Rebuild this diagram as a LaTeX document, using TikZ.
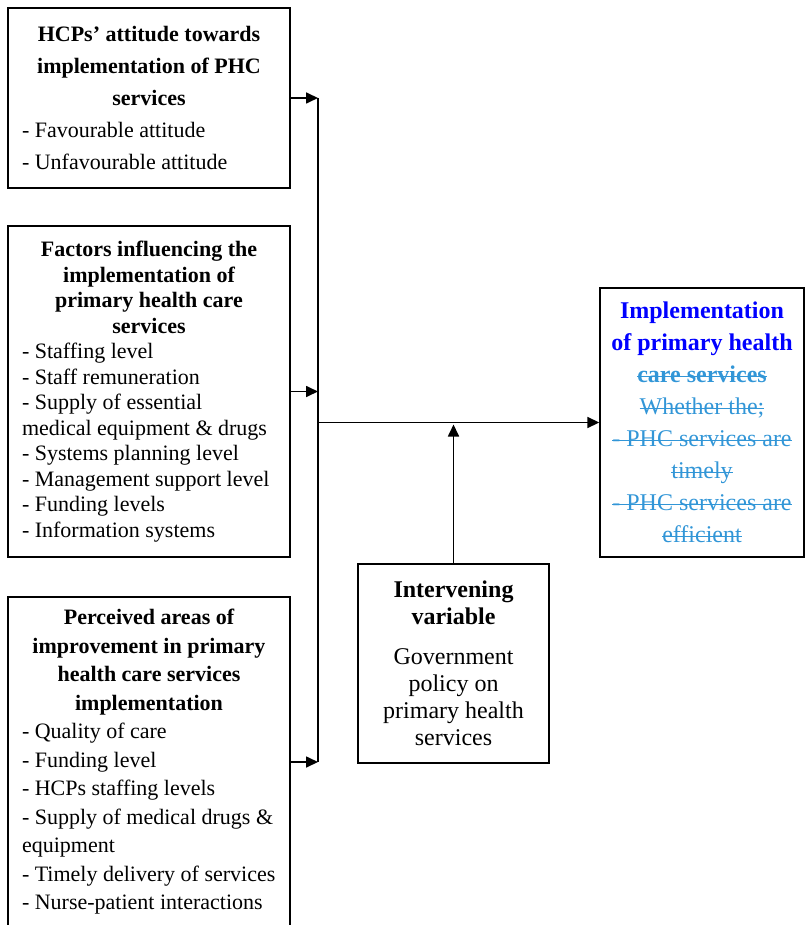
\documentclass[tikz,border=0pt]{standalone}
\usepackage{fontspec}
\setmainfont{Liberation Serif}
\usetikzlibrary{shapes,arrows.meta}
\definecolor{implblue}{RGB}{0,0,255}
\definecolor{strikeblue}{RGB}{50,150,215}
\newcommand{\strk}[1]{\leavevmode\setbox0\hbox{#1}\rlap{\rule[0.5ex]{\wd0}{1.6pt}}\box0}

\begin{document}
\begin{tikzpicture}[x=1pt,y=-1pt,
    every node/.style={draw,line width=1.4pt,inner ysep=4pt},
    leftbox/.style={text width=254pt,inner xsep=14pt,align=flush left},
    midbox/.style={align=flush center},
    arr/.style={-{Triangle[length=12pt,width=11pt]},line width=1.7pt}]
    \useasboundingbox (0,0) rectangle (805,925);

    \node[leftbox,minimum height=180pt,font=\fontsize{22}{32}\selectfont] (attitude) at (149,98)
        {{\bfseries\centering HCPs’ attitude towards\\implementation of PHC\\services\par}
        - Favourable attitude\\- Unfavourable attitude};
    \node[leftbox,minimum height=331pt,font=\fontsize{22}{25.5}\selectfont] (factors) at (149,391.5)
        {{\bfseries\centering Factors influencing the\\implementation of\\primary health care\\services\par}
        - Staffing level\\- Staff remuneration\\- Supply of essential\\medical equipment \& drugs\\
        - Systems planning level\\- Management support level\\- Funding levels\\- Information systems};
    % box runs past the bottom of the page
    \node[leftbox,minimum height=330pt,font=\fontsize{22}{28.5}\selectfont] (areas) at (149,762)
        {{\bfseries\centering Perceived areas of\\improvement in primary\\health care services\\implementation\par}
        - Quality of care\\- Funding level\\- HCPs staffing levels\\- Supply of medical drugs \&\\equipment\\
        - Timely delivery of services\\- Nurse-patient interactions};

    \node[midbox,text width=190pt,inner xsep=7pt,minimum height=269pt,font=\fontsize{24}{32}\selectfont] (impl) at (702,422.5)
        {{\color{implblue}\bfseries Implementation\\of primary health\\}
        {\color{strikeblue}{\bfseries\strk{care services}}\\\strk{Whether the;}\\\strk{- PHC services are}\\
        \strk{timely}\\\strk{- PHC services are}\\\strk{efficient}}};
    \node[midbox,text width=175pt,inner xsep=8pt,minimum height=199pt,font=\fontsize{24}{27}\selectfont] (interv) at (453.5,663.5)
        {{\bfseries Intervening\\variable\par}\vspace{13pt}
        Government\\policy on\\primary health\\services};

    \coordinate (bus) at (318,0);
    \draw[line width=1.7pt] (attitude.east -| bus) -- (areas.east -| bus);
    \foreach \src in {attitude,factors,areas}
        \draw[arr] (\src.east) -- (\src.east -| bus);
    \draw[arr] (bus |- impl.west) -- (impl.west);
    \draw[arr] (interv.north) -- ([yshift=-2pt]interv.north |- impl.west);
\end{tikzpicture}
\end{document}
